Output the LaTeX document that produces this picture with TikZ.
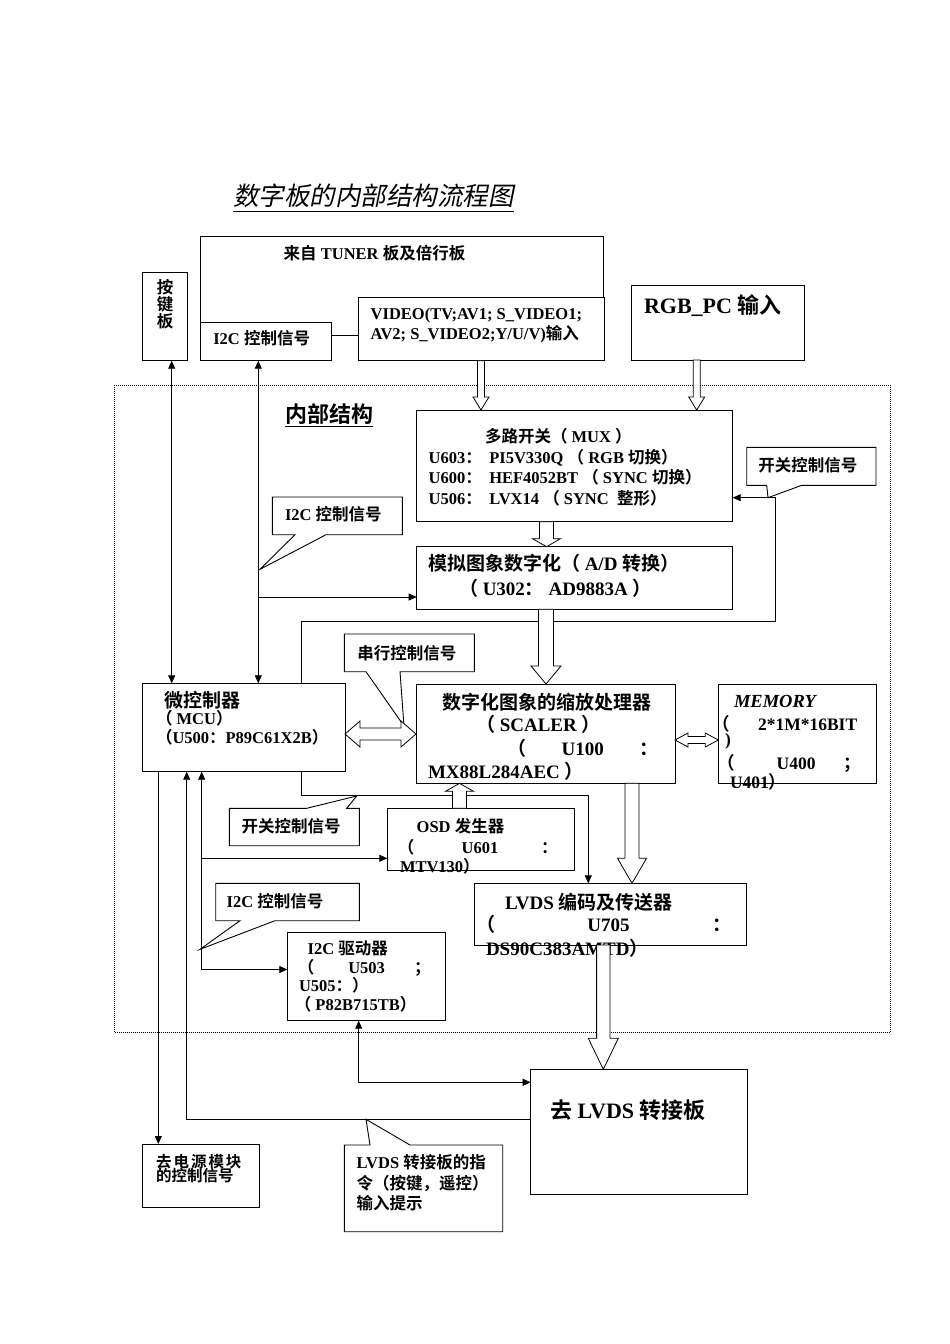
\documentclass[tikz,border=0pt]{standalone}
\usepackage{fontspec}
\setmainfont{Liberation Serif}
\newfontfamily\zh{Noto Sans CJK SC}[UprightFont=* Bold, BoldFont=* Bold, ItalicFont=* Bold, BoldItalicFont=* Bold]
\newfontfamily\zht{Noto Sans CJK SC}[FakeSlant=0.2]
\usetikzlibrary{arrows.meta,calc}
\newcommand\Z[1]{{\zh #1}}
\newcommand\fs{\fontsize{16.5}{20.5}\selectfont}
\newcommand\fm{\fontsize{19}{23}\selectfont}
\newcommand\fl{\fontsize{22}{26}\selectfont}
\newcommand\bx[6][]{\node[box,#1,minimum width={(#5-#3)*1pt},minimum height={(#6-#4)*1pt}] (#2) at ({(#3+#5)/2},{(#4+#6)/2}) {};}
\newcommand\hdown[5]{\draw[hollow] let \p1=#1, \p2=#2 in (\x1-#3pt,\y1) -- (\x1+#3pt,\y1) -- (\x1+#3pt,\y2+#5pt) -- (\x1+#4pt,\y2+#5pt) -- (\x1,\y2) -- (\x1-#4pt,\y2+#5pt) -- (\x1-#3pt,\y2+#5pt) -- cycle;}
\newcommand\hup[5]{\draw[hollow] let \p1=#1, \p2=#2 in (\x1-#3pt,\y1) -- (\x1+#3pt,\y1) -- (\x1+#3pt,\y2-#5pt) -- (\x1+#4pt,\y2-#5pt) -- (\x1,\y2) -- (\x1-#4pt,\y2-#5pt) -- (\x1-#3pt,\y2-#5pt) -- cycle;}
\newcommand\hdbl[5]{\draw[hollow] let \p1=#1, \p2=#2 in (\x1,\y1) -- (\x1+#5pt,\y1+#4pt) -- (\x1+#5pt,\y1+#3pt) -- (\x2-#5pt,\y1+#3pt) -- (\x2-#5pt,\y1+#4pt) -- (\x2,\y1) -- (\x2-#5pt,\y1-#4pt) -- (\x2-#5pt,\y1-#3pt) -- (\x1+#5pt,\y1-#3pt) -- (\x1+#5pt,\y1-#4pt) -- cycle;}
\begin{document}
\begin{tikzpicture}[x=1pt,y=-1pt,
  box/.style={draw,line width=1pt,fill=white,inner sep=0pt,outer sep=0pt,rectangle},
  hollow/.style={draw,fill=white,line width=0.8pt,line join=miter},
  conn/.style={line width=0.8pt},
  tip/.tip={Triangle[length=8pt,width=7pt]},
  callout/.style={draw,fill=white,line width=0.9pt,line join=miter},
  txt/.style={inner sep=0pt,outer sep=0pt,anchor=base west,font=\fs\bfseries}]
\fill[white] (0,0) rectangle (950,1344);
\useasboundingbox (0,0) rectangle (950,1344);

% x and y guide coordinates
\coordinate (xv) at (481,0);
\coordinate (xr) at (696.7,0);
\coordinate (xm) at (546.5,0);
\coordinate (xa) at (546,0);
\coordinate (xo) at (459.5,0);
\coordinate (xs) at (632,0);
\coordinate (xl) at (603.3,0);
\coordinate (xkb) at (171.7,0);
\coordinate (xi) at (258.3,0);
\coordinate (xl1) at (301.7,0);
\coordinate (xl2) at (201.7,0);
\coordinate (xl3) at (186.7,0);
\coordinate (xl4) at (158.3,0);
\coordinate (xd) at (358.7,0);
\coordinate (xe) at (588.3,0);
\coordinate (xf) at (775,0);
\coordinate (y1) at (0,597);
\coordinate (y2) at (0,621.7);
\coordinate (y3) at (0,795.7);
\coordinate (y4) at (0,858.3);
\coordinate (y5) at (0,969.5);
\coordinate (y6) at (0,1119.3);
\coordinate (y7) at (0,1082.3);
\coordinate (ymux) at (0,497.7);
\coordinate (ydbl) at (0,734);
\coordinate (ydbl2) at (0,740);

% inner frame
\node[draw,line width=0.7pt,dash pattern=on 1pt off 1pt,inner sep=0pt,outer sep=0pt,minimum width=775.3pt,minimum height=647.4pt] (frame) at ({(114.7+890)/2},{(385.3+1032.7)/2}) {};

% boxes
\bx{tuner}{200.7}{236}{603.5}{335.7}
\bx{i2c}{200.7}{322.7}{331}{360.7}
\bx{video}{358}{297.7}{604}{360.7}
\bx{kb}{142.7}{272.7}{187.3}{360.7}
\bx{rgb}{631.7}{285.7}{804}{360}
\bx{mux}{416.7}{410}{732.7}{521.7}
\bx{ad}{416.7}{546.7}{732.7}{609.3}
\bx{mcu}{142.7}{683.3}{345}{771.7}
\bx{scaler}{416}{684}{675}{783.3}
\bx{mem}{718.3}{684}{876.7}{783.3}
\bx{osd}{387.3}{808.3}{574.3}{870.7}
\bx{lvds}{474}{883.3}{746.7}{945}
\bx{drv}{287.3}{932.7}{445.7}{1020.7}
\bx{board}{530.7}{1069.3}{747.3}{1194.3}
\bx{pwr}{142.7}{1144}{259.3}{1207.3}

% callouts
\draw[callout] (272.3,497) -- (402.3,497) -- (402.3,534.7) -- (326,534.7) -- (260,569.3) -- (295,534.7) -- (272.3,534.7) -- cycle;
\draw[callout] (746.7,447.3) -- (876,447.3) -- (876,485.3) -- (801.7,485.3) -- (768,497.7) -- (766.7,485.3) -- (746.7,485.3) -- cycle;
\draw[callout] (344.3,634) -- (474.3,634) -- (474.3,671.7) -- (400,671.7) -- (404,726) -- (366,671.7) -- (344.3,671.7) -- cycle;
\draw[callout] (229.3,808.3) -- (306.7,808.3) -- (356.7,796) -- (346.7,808.3) -- (359.3,808.3) -- (359.3,845.7) -- (229.3,845.7) -- cycle;
\draw[callout] (215.7,883.3) -- (359.3,883.3) -- (359.3,920.7) -- (275,920.7) -- (200,949.3) -- (240,920.7) -- (215.7,920.7) -- cycle;
\draw[callout] (344.3,1145) -- (370,1145) -- (366,1119.3) -- (410,1145) -- (502.7,1145) -- (502.7,1231.7) -- (344.3,1231.7) -- cycle;

% connectors
\draw[conn,tip-tip] (kb.south -| xkb) -- (mcu.north -| xkb);
\draw[conn,tip-tip] (i2c.south -| xi) -- (mcu.north -| xi);
\draw[conn,-tip] (xi |- y1) -- (ad.west |- y1);
\draw[conn,-tip] (mcu.north -| xl1) -- (xl1 |- y2) -- (xf |- y2) -- (xf |- ymux) -- (mux.east |- ymux);
\draw[conn,-tip] (mcu.south -| xl1) -- (xl1 |- y3) -- (xe |- y3) -- (lvds.north -| xe);
\draw[conn,tip-tip] (mcu.south -| xl2) -- (xl2 |- y5) -- (drv.west |- y5);
\draw[conn,-tip] (xl2 |- y4) -- (osd.west |- y4);
\draw[conn,tip-] (mcu.south -| xl3) -- (xl3 |- y6) -- (board.west |- y6);
\draw[conn,-tip] (mcu.south -| xl4) -- (pwr.north -| xl4);
\draw[conn,tip-tip] (drv.south -| xd) -- (xd |- y7) -- (board.west |- y7);

% hollow arrows
\hdown{(video.south -| xv)}{(mux.north -| xv)}{3.5}{8}{13}
\hdown{(rgb.south -| xr)}{(mux.north -| xr)}{3.5}{8}{13}
\hdown{(mux.south -| xm)}{(ad.north -| xm)}{7}{14}{8}
\hdown{(ad.south -| xa)}{(scaler.north -| xa)}{7.5}{15}{18}
\hup{(osd.north -| xo)}{(scaler.south -| xo)}{7}{14}{8}
\hdown{(scaler.south -| xs)}{(lvds.north -| xs)}{7}{14.5}{25}
\hdbl{(mcu.east |- ydbl)}{(scaler.west |- ydbl)}{6}{13}{15}
\hdbl{(scaler.east |- ydbl2)}{(mem.west |- ydbl2)}{3.5}{7}{13}

% title texts
\node[txt,font=\zht\fontsize{25.5}{30}\selectfont] (title) at (233,205) {数字板的内部结构流程图};
\draw[line width=0.8pt] ($(title.base west)+(0,6)$) -- ($(title.base east)+(0,6)$);
\node[txt,font=\zh\fontsize{22}{26}\selectfont] (inner) at (285,422) {内部结构};
\draw[line width=1pt] ($(inner.base west)+(0,4)$) -- ($(inner.base east)+(0,4)$);

% top area texts
\node[txt,anchor=base] (tTun) at (374.5,259) {\Z{来自} TUNER \Z{板及倍行板}};
\node[txt] (tI2c) at (213.3,344) {I2C \Z{控制信号}};
\node[txt] (tVid1) at (370.7,319) {VIDEO(TV;AV1; S\_VIDEO1;};
\node[txt] (tVid2) at (370.7,339) {AV2; S\_VIDEO2;Y/U/V)\Z{输入}};
\node[txt,anchor=base] (tKb1) at (165,293.5) {\Z{按}};
\node[txt,anchor=base] (tKb2) at (165,310.5) {\Z{键}};
\node[txt,anchor=base] (tKb3) at (165,327.5) {\Z{板}};
\node[txt,font=\fl\bfseries] (tRgb) at (644,313) {RGB\_PC \Z{输入}};

% MUX
\node[txt] (tMux1) at (485,442) {\Z{多路开关（} MUX \Z{）}};
\node[txt] (tMux2a) at (428.7,463) {U603\Z{：}};
\node[txt] (tMux2b) at (489.3,463) {PI5V330Q \Z{（} RGB \Z{切换）}};
\node[txt] (tMux3a) at (428.7,483.5) {U600\Z{：}};
\node[txt] (tMux3b) at (489.3,483.5) {HEF4052BT \Z{（} SYNC \Z{切换）}};
\node[txt] (tMux4a) at (428.7,504) {U506\Z{：}};
\node[txt] (tMux4b) at (489.3,504) {LVX14 \Z{（} SYNC\ \ \Z{整形）}};

% A/D
\node[txt,font=\fm\bfseries] (tAd1) at (428,570) {\Z{模拟图象数字化（} A/D \Z{转换）}};
\node[txt,font=\fm\bfseries] (tAd2) at (459,595) {\Z{（} U302\Z{：} AD9883A \Z{）}};

% scaler
\node[txt,font=\fm\bfseries,anchor=base] (tSc1) at (546.7,709) {\Z{数字化图象的缩放处理器}};
\node[txt,font=\fm\bfseries] (tSc2) at (476,731) {\Z{（} SCALER \Z{）}};
\node[txt,font=\fm\bfseries] (tSc3a) at (507,755) {\Z{（}};
\node[txt,font=\fm\bfseries] (tSc3b) at (561.7,755) {U100};
\node[txt,font=\fm\bfseries] (tSc3c) at (639,755) {\Z{：}};
\node[txt,font=\fm\bfseries] (tSc4) at (428,778) {MX88L284AEC \Z{）}};

% memory
\node[txt,font=\fontsize{18.5}{22}\selectfont\bfseries\itshape] (tMem1) at (734,707) {MEMORY};
\node[txt,font=\fontsize{17.5}{21}\selectfont\bfseries] (tMem2a) at (712,730) {\Z{（}};
\node[txt,font=\fontsize{17.5}{21}\selectfont\bfseries] (tMem2b) at (758,730) {2*1M*16BIT};
\node[txt,font=\fontsize{17.5}{21}\selectfont\bfseries] (tMem3) at (725,745) {)};
\node[txt,font=\fontsize{17.5}{21}\selectfont\bfseries] (tMem4a) at (717,769) {\Z{（}};
\node[txt,font=\fontsize{17.5}{21}\selectfont\bfseries] (tMem4b) at (776.7,769) {U400};
\node[txt,font=\fontsize{17.5}{21}\selectfont\bfseries] (tMem4c) at (843,769) {\Z{；}};
\node[txt,font=\fontsize{17.5}{21}\selectfont\bfseries] (tMem5) at (730,788) {U401\Z{）}};

% MCU
\node[txt,font=\fm\bfseries] (tMcu1) at (164.3,707) {\Z{微控制器}};
\node[txt] (tMcu2) at (156,724) {\Z{（} MCU\Z{）}};
\node[txt] (tMcu3) at (156,743) {\Z{（}U500\Z{：}P89C61X2B\Z{）}};

% OSD
\node[txt] (tOsd1) at (416.7,832) {OSD \Z{发生器}};
\node[txt] (tOsd2a) at (397.8,853) {\Z{（}};
\node[txt] (tOsd2b) at (461.7,853) {U601};
\node[txt] (tOsd2c) at (541,853) {\Z{：}};
\node[txt] (tOsd3) at (400,872) {MTV130\Z{）}};

% LVDS encoder
\node[txt,font=\fm\bfseries] (tLv1) at (505,909) {LVDS \Z{编码及传送器}};
\node[txt,font=\fm\bfseries] (tLv2a) at (476.2,931) {\Z{（}};
\node[txt,font=\fm\bfseries] (tLv2b) at (587.3,931) {U705};
\node[txt,font=\fm\bfseries] (tLv2c) at (712,931) {\Z{：}};
\node[txt,font=\fm\bfseries] (tLv3) at (486,955) {DS90C383AMTD\Z{）}};

% I2C driver
\node[txt] (tDrv1) at (307.7,954) {I2C \Z{驱动器}};
\node[txt] (tDrv2a) at (297.8,973) {\Z{（}};
\node[txt] (tDrv2b) at (348.3,973) {U503};
\node[txt] (tDrv2c) at (414,973) {\Z{；}};
\node[txt] (tDrv3) at (299,991) {U505\Z{：）}};
\node[txt] (tDrv4) at (294.8,1010) {\Z{（} P82B715TB\Z{）}};

% bottom boxes
\node[txt,font=\fontsize{15.5}{18}\selectfont\bfseries] (tPw1) at (156,1167) {\Z{去\hspace{2pt}电\hspace{2pt}源\hspace{2pt}模\hspace{2pt}块}};
\node[txt,font=\fontsize{15.5}{18}\selectfont\bfseries] (tPw2) at (156,1181) {\Z{的控制信号}};
\node[txt] (tCb1) at (356.7,1168) {LVDS \Z{转接板的指}};
\node[txt] (tCb2) at (356.7,1189) {\Z{令（按键，遥控）}};
\node[txt] (tCb3) at (356.7,1209) {\Z{输入提示}};
\node[txt,font=\fl\bfseries] (tBd) at (550,1118) {\Z{去} LVDS \Z{转接板}};

% callout texts
\node[txt] (tC1) at (285,520) {I2C \Z{控制信号}};
\node[txt] (tC2) at (758.3,471) {\Z{开关控制信号}};
\node[txt] (tC3) at (357.3,659) {\Z{串行控制信号}};
\node[txt] (tC4) at (241.7,832) {\Z{开关控制信号}};
\node[txt] (tC5) at (226.7,907) {I2C \Z{控制信号}};

% LVDS to board hollow arrow (over the overflowing text)
\hdown{(lvds.south -| xl)}{(board.north -| xl)}{6.7}{15}{31}
\end{tikzpicture}
\end{document}
